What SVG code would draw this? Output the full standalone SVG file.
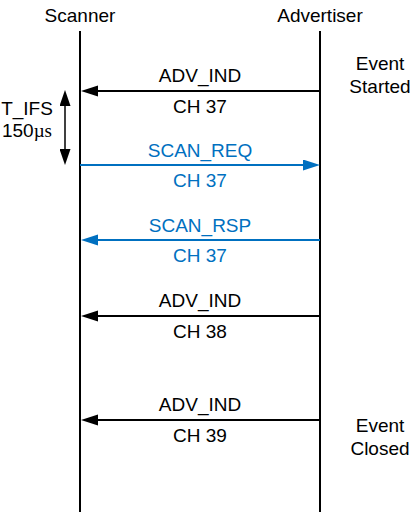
<svg xmlns="http://www.w3.org/2000/svg" width="413" height="512" viewBox="0 0 413 512">
<style>
text{font-family:"Liberation Sans",Arial,sans-serif;font-size:19px;fill:#000;text-anchor:middle}
.b{fill:#0070C0}
.life{stroke:#000;stroke-width:2;fill:none}
.msg{stroke:#000;stroke-width:2;fill:none;marker-end:url(#ah)}
.msgb{stroke:#0070C0;stroke-width:2;fill:none;marker-end:url(#ahb)}
.serif{font-family:"Liberation Serif","Times New Roman",serif}
</style>
<defs>
<marker id="ah" markerUnits="userSpaceOnUse" markerWidth="18" markerHeight="12" refX="8" refY="5.5" orient="auto-start-reverse" viewBox="0 0 18 12"><path d="M0,0 L17,5.5 L0,11 z" fill="#000"/></marker>
<marker id="ahb" markerUnits="userSpaceOnUse" markerWidth="18" markerHeight="12" refX="8" refY="5.5" orient="auto" viewBox="0 0 18 12"><path d="M0,0 L17,5.5 L0,11 z" fill="#0070C0"/></marker>
<marker id="av" markerUnits="userSpaceOnUse" markerWidth="16" markerHeight="11" refX="8" refY="5.5" orient="auto-start-reverse" viewBox="0 0 16 11"><path d="M0,0 L16,5.5 L0,11 z" fill="#000"/></marker>
</defs>
<g id="scanner">
<text x="80" y="22">Scanner</text>
<line class="life" x1="80" y1="31" x2="80" y2="512"/>
</g>
<g id="advertiser">
<text x="320" y="22">Advertiser</text>
<line class="life" x1="320" y1="31" x2="320" y2="512"/>
</g>
<g id="event-started">
<text x="380" y="70">Event</text>
<text x="380" y="93">Started</text>
</g>
<g id="event-closed">
<text x="380" y="432">Event</text>
<text x="380" y="455">Closed</text>
</g>
<g id="tifs">
<text x="27" y="115">T_IFS</text>
<text x="27" y="137">150<tspan class="serif">µs</tspan></text>
</g>
<g id="connectors">
<line x1="65" y1="98" x2="65" y2="157" stroke="#000" stroke-width="1.5" marker-start="url(#av)" marker-end="url(#av)"/>
<line class="msg" x1="320" y1="91" x2="90" y2="91"/>
<line class="msgb" x1="80" y1="165" x2="311" y2="165"/>
<line class="msgb" x1="320" y1="240" x2="90" y2="240"/>
<line class="msg" x1="320" y1="316" x2="90" y2="316"/>
<line class="msg" x1="320" y1="420" x2="90" y2="420"/>
</g>
<g id="labels">
<text x="200" y="82">ADV_IND</text>
<text x="200" y="113">CH 37</text>
<text class="b" x="200" y="157">SCAN_REQ</text>
<text class="b" x="200" y="187">CH 37</text>
<text class="b" x="200" y="232">SCAN_RSP</text>
<text class="b" x="200" y="262">CH 37</text>
<text x="200" y="307">ADV_IND</text>
<text x="200" y="338">CH 38</text>
<text x="200" y="411">ADV_IND</text>
<text x="200" y="442">CH 39</text>
</g>
</svg>
